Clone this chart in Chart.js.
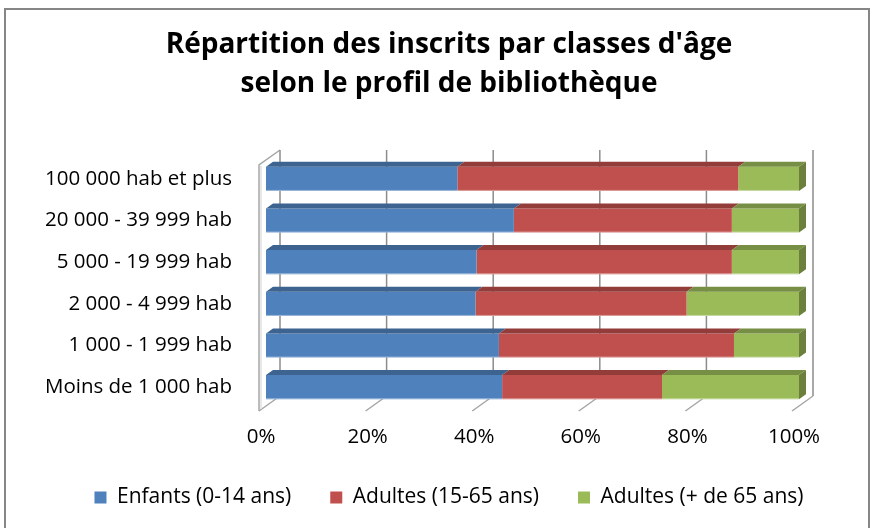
<!DOCTYPE html>
<html>
<head>
<meta charset="utf-8">
<script src="https://cdn.jsdelivr.net/npm/chart.js@4/dist/chart.umd.min.js"></script>
<style>
  html, body { margin: 0; padding: 0; background: #fff; }
  #wrap { width: 876px; height: 528px; position: relative; }
</style>
</head>
<body>
<div id="wrap"><canvas id="chart" width="876" height="528"></canvas></div>
<script>
// ===== DATA =====
const categories = [
  '100 000 hab et plus',
  '20 000 - 39 999 hab',
  '5 000 - 19 999 hab',
  '2 000 - 4 999 hab',
  '1 000 - 1 999 hab',
  'Moins de 1 000 hab',
];
const enfants = [35.9, 46.5, 39.5, 39.3, 43.7, 44.3];
const adultes = [52.7, 40.9, 47.9, 39.6, 44.1, 30.0];
const seniors = [11.4, 12.6, 12.6, 21.1, 12.2, 25.7];
const seriesLabels = ['Enfants (0-14 ans)', 'Adultes (15-65 ans)', 'Adultes (+ de 65 ans)'];
const xTicks = [0, 20, 40, 60, 80, 100];

// ===== COLORS =====
const COLORS = {
  blue: '#4F81BD', blueTop: '#3D6391',
  red: '#C0504D', redTop: '#933D3B',
  green: '#9BBB59', greenTop: '#778F45', greenSide: '#6A803C',
  grid: '#8C8C8C',
  wall: '#A6A6A6',
  border: '#868686',
  text: '#000000',
};
const FONT = "'Open Sans', Lato, sans-serif";

// 3D depth: bars sit in the middle third of the floor depth
const BAR_DX = 7, BAR_DY = -5;
const WALL_DX = 21, WALL_DY = -15;
// title and legend are centred on the whole frame, not on the plot
const FRAME_CENTER = 449;

const threeD = {
  id: 'threeD',
  afterLayout(chart) {
    [chart.titleBlock, chart.legend].forEach(b => {
      if (!b) return;
      b.left = 0;
      b.right = FRAME_CENTER * 2;
      b.width = FRAME_CENTER * 2;
    });
  },
  beforeDraw(chart) {
    const { ctx } = chart;
    ctx.save();
    ctx.strokeStyle = COLORS.border;
    ctx.lineWidth = 2;
    ctx.strokeRect(5, 9, 864, 540);
    ctx.restore();
  },
  beforeDatasetsDraw(chart) {
    const { ctx, chartArea, scales } = chart;
    const x = scales.x;
    const frontBottom = chartArea.bottom + 3;
    const frontTop = chartArea.top + 7;
    ctx.save();
    // floor marks
    ctx.strokeStyle = COLORS.wall;
    ctx.lineWidth = 1.5;
    xTicks.forEach(v => {
      const fx = x.getPixelForValue(v) - BAR_DX;
      ctx.beginPath();
      ctx.moveTo(fx, frontBottom);
      ctx.lineTo(fx + WALL_DX, frontBottom + WALL_DY);
      ctx.stroke();
    });
    // left wall
    const lx = x.getPixelForValue(0) - BAR_DX;
    ctx.beginPath();
    ctx.moveTo(lx, frontBottom);
    ctx.lineTo(lx, frontTop);
    ctx.lineTo(lx + WALL_DX, frontTop + WALL_DY);
    ctx.stroke();
    ctx.strokeStyle = '#E0E0E0';
    ctx.beginPath();
    ctx.moveTo(lx + 2, frontBottom - 2);
    ctx.lineTo(lx + 2, frontTop + 1);
    ctx.stroke();
    // back wall grid
    ctx.strokeStyle = COLORS.grid;
    ctx.lineWidth = 1.5;
    xTicks.forEach(v => {
      const bx = x.getPixelForValue(v) - BAR_DX + WALL_DX;
      ctx.beginPath();
      ctx.moveTo(bx, frontTop + WALL_DY);
      ctx.lineTo(bx, frontBottom + WALL_DY);
      ctx.stroke();
    });
    ctx.restore();
  },
  afterDatasetsDraw(chart) {
    const { ctx } = chart;
    const tops = [COLORS.blueTop, COLORS.redTop, COLORS.greenTop];
    const n = chart.data.datasets.length;
    ctx.save();
    chart.data.datasets.forEach((ds, di) => {
      const meta = chart.getDatasetMeta(di);
      meta.data.forEach(bar => {
        const { x: right, base: left, y, height } = bar.getProps(['x', 'base', 'y', 'height'], true);
        const top = y - height / 2;
        const bottom = y + height / 2;
        ctx.fillStyle = tops[di];
        ctx.beginPath();
        ctx.moveTo(left, top);
        ctx.lineTo(left + BAR_DX, top + BAR_DY);
        ctx.lineTo(right + BAR_DX, top + BAR_DY);
        ctx.lineTo(right, top);
        ctx.closePath();
        ctx.fill();
        // light edge under the front face
        ctx.fillStyle = 'rgba(255,255,255,0.45)';
        ctx.fillRect(left, bottom - 1, right - left, 1);
        if (di === n - 1) {
          ctx.fillStyle = COLORS.greenSide;
          ctx.beginPath();
          ctx.moveTo(right, top);
          ctx.lineTo(right + BAR_DX, top + BAR_DY);
          ctx.lineTo(right + BAR_DX, bottom + BAR_DY);
          ctx.lineTo(right, bottom);
          ctx.closePath();
          ctx.fill();
        }
      });
    });
    ctx.restore();
  },
};

new Chart(document.getElementById('chart'), {
  type: 'bar',
  data: {
    labels: categories,
    datasets: [
      { label: seriesLabels[0], data: enfants, backgroundColor: COLORS.blue },
      { label: seriesLabels[1], data: adultes, backgroundColor: COLORS.red },
      { label: seriesLabels[2], data: seniors, backgroundColor: COLORS.green },
    ],
  },
  plugins: [threeD],
  options: {
    indexAxis: 'y',
    responsive: false,
    animation: false,
    categoryPercentage: 1,
    barPercentage: 0.58,
    layout: { padding: { top: 0, right: 77, bottom: 10, left: 0 } },
    scales: {
      x: {
        stacked: true,
        min: 0,
        max: 100,
        grid: { display: false, drawTicks: false },
        border: { display: false },
        afterBuildTicks: (s) => { s.ticks = xTicks.map(v => ({ value: v })); },
        afterFit: (s) => { s.height = 40; },
        ticks: {
          padding: 17,
          labelOffset: -5,
          color: COLORS.text,
          font: { family: FONT, size: 20.5 },
          callback: (v) => v + '%',
        },
      },
      y: {
        stacked: true,
        grid: { display: false, drawTicks: false },
        border: { display: false },
        afterFit: (s) => { s.width = 266; },
        ticks: {
          padding: 34,
          color: COLORS.text,
          font: { family: FONT, size: 20.5 },
        },
      },
    },
    plugins: {
      title: {
        display: true,
        text: ["Répartition des inscrits par classes d'âge", 'selon le profil de bibliothèque'],
        color: COLORS.text,
        font: { family: FONT, size: 28, weight: 'bold', lineHeight: '39px' },
        padding: { top: 26, bottom: 54 },
      },
      legend: {
        position: 'bottom',
        labels: {
          color: COLORS.text,
          font: { family: FONT, size: 21 },
          boxWidth: 12,
          boxHeight: 12,
          padding: 39,
        },
      },
      tooltip: { enabled: false },
    },
  },
});
</script>
</body>
</html>
